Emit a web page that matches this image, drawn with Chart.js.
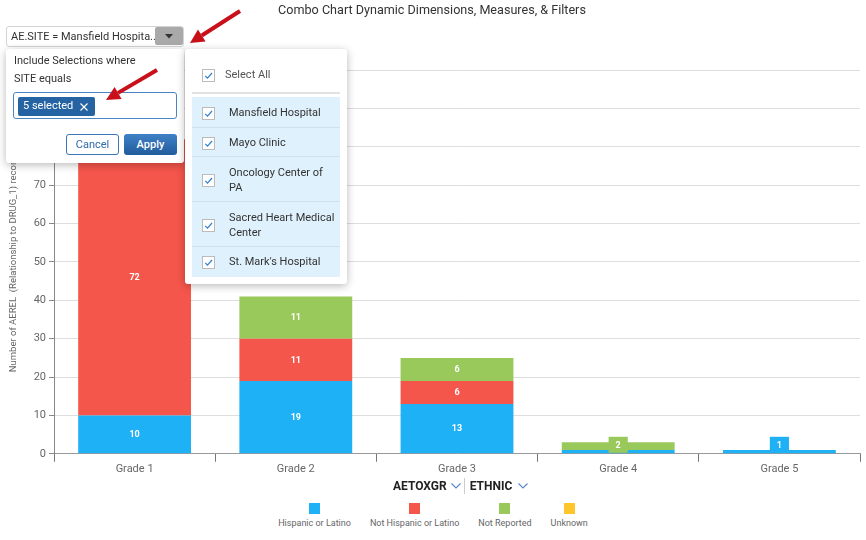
<!DOCTYPE html>
<html>
<head>
<meta charset="utf-8">
<script src="https://cdn.jsdelivr.net/npm/chart.js@4"></script>
<style>
  html, body { margin:0; padding:0; background:#fff; width:866px; height:540px; overflow:hidden; font-family: Roboto, "Liberation Sans", sans-serif; }
  #wrap { position:absolute; left:0; top:0; width:866px; height:478px; }
  .abs { position:absolute; }
  #dims { position:absolute; top:477px; left:393px; height:18px; display:flex; align-items:center; font-size:12px; font-weight:bold; color:#222; white-space:nowrap; }
  #dims .sep { width:1px; height:16px; background:#ccc; margin:0 5px 0 3px; }
  #dims svg.c1 { margin-left:4px; }
  #dims svg.c2 { margin-left:6px; }
  #legend { position:absolute; top:503px; left:0; width:866px; display:flex; justify-content:center; gap:19px; font-size:9px; color:#666; }
  #legend .item { display:flex; flex-direction:column; align-items:center; }
  #legend .sw { width:11px; height:11px; margin-bottom:4px; }
  .panel { background:#fff; box-shadow:0 2px 8px rgba(0,0,0,0.28); border-radius:3px; }
  .txt { font-size:11px; color:#333; white-space:nowrap; }
  .cb { position:absolute; width:13px; height:13px; border:1px solid #bbb; background:#fff; box-sizing:border-box; }
</style>
</head>
<body>
<div id="wrap"><canvas id="c" width="866" height="478"></canvas></div>
<div id="dims"><span>AETOXGR</span><svg class="c1" width="10" height="6" viewBox="0 0 10 6"><path d="M0.5 0.5 L5 5 L9.5 0.5" fill="none" stroke="#5b86c4" stroke-width="1.1"/></svg><span class="sep"></span><span>ETHNIC</span><svg class="c2" width="10" height="6" viewBox="0 0 10 6"><path d="M0.5 0.5 L5 5 L9.5 0.5" fill="none" stroke="#5b86c4" stroke-width="1.1"/></svg></div>
<div id="legend"></div>

<!-- Filter button -->
<div class="abs" style="left:6px;top:26px;width:178px;height:21px;border:1px solid #d4d4d4;border-radius:3px;box-sizing:border-box;background:#fff;">
  <div class="abs txt" style="left:4px;top:3px;">AE.SITE = Mansfield Hospita...</div>
  <div class="abs" style="left:148px;top:0px;width:28px;height:18px;background:#a9a9a9;border-radius:2px;">
    <svg class="abs" style="left:10px;top:7px" width="8" height="5" viewBox="0 0 8 5"><path d="M0 0 L8 0 L4 4.5Z" fill="#333"/></svg>
  </div>
</div>

<!-- Panel 1 -->
<div class="abs panel" style="left:6px;top:49px;width:178px;height:114px;">
  <div class="abs txt" style="left:8px;top:5px;">Include Selections where</div>
  <div class="abs txt" style="left:8px;top:23px;">SITE equals</div>
  <div class="abs" style="left:7px;top:43px;width:164px;height:27px;border:1px solid #4a86c5;border-radius:3px;box-sizing:border-box;">
    <div class="abs" style="left:4px;top:4px;width:77px;height:19px;background:#2563a3;border-radius:2px;color:#fff;font-size:11px;line-height:17px;">
      <span style="position:absolute;left:5px;top:0;">5 selected</span>
      <svg class="abs" style="left:62px;top:6px" width="8" height="8" viewBox="0 0 8 8"><path d="M0.5 0.5 L7.5 7.5 M7.5 0.5 L0.5 7.5" stroke="#fff" stroke-width="1.1"/></svg>
    </div>
  </div>
  <div class="abs" style="left:60px;top:85px;width:53px;height:21px;border:1px solid #3a76b8;border-radius:3px;box-sizing:border-box;color:#2f6aab;font-size:11px;text-align:center;line-height:19px;">Cancel</div>
  <div class="abs" style="left:118px;top:85px;width:53px;height:21px;border-radius:3px;background:linear-gradient(#3f80c6,#215c9c);color:#fff;font-size:11px;font-weight:500;text-align:center;line-height:21px;">Apply</div>
</div>

<!-- Panel 2 -->
<div class="abs panel" style="left:185px;top:49px;width:162px;height:235px;">
  <div id="plist"></div>
</div>

<!-- Arrows -->
<svg class="abs" style="left:0;top:0;pointer-events:none" width="866" height="540">
  <line x1="240" y1="11" x2="201.8" y2="35.5" stroke="#c8101a" stroke-width="4"/>
  <polygon points="190,43 205.6,41.4 198,29.6" fill="#c8101a"/>
  <line x1="157" y1="70" x2="118.1" y2="92.9" stroke="#c8101a" stroke-width="4"/>
  <polygon points="106,100 121.6,98.9 114.6,86.9" fill="#c8101a"/>
</svg>

<script>
// ---- Data ----
const categories = ["Grade 1", "Grade 2", "Grade 3", "Grade 4", "Grade 5"];
const seriesNames = ["Hispanic or Latino", "Not Hispanic or Latino", "Not Reported", "Unknown"];
const hispanicOrLatino    = [10, 19, 13, 1, 1];
const notHispanicOrLatino = [72, 11, 6, 0, 0];
const notReported         = [0, 11, 6, 2, 0];
const unknown             = [0, 0, 0, 0, 0];
const yTicks = [0, 10, 20, 30, 40, 50, 60, 70, 80, 90, 100];
const sites = ["Mansfield Hospital", "Mayo Clinic", "Oncology Center of PA", "Sacred Heart Medical Center", "St. Mark's Hospital"];

const colors = ["#1fb1f5", "#f5564b", "#99c95b", "#fec52d"];
const seriesValues = [hispanicOrLatino, notHispanicOrLatino, notReported, unknown];

// ---- Legend ----
const lg = document.getElementById('legend');
seriesNames.forEach((n, i) => {
  const it = document.createElement('div'); it.className = 'item';
  it.innerHTML = '<div class="sw" style="background:' + colors[i] + '"></div><div>' + n + '</div>';
  lg.appendChild(it);
});

// ---- Site list panel ----
const check = '<svg width="11" height="11" viewBox="0 0 11 11" style="position:absolute;left:0;top:0"><path d="M2.3 5.8 L4.5 8.2 L9 3" fill="none" stroke="#2f7fd0" stroke-width="1.2"/></svg>';
const pl = document.getElementById('plist');
let html = '<div class="cb" style="left:17px;top:20px;">' + check + '</div>' +
  '<div class="abs" style="left:40px;top:19px;font-size:11px;color:#555;">Select All</div>' +
  '<div class="abs" style="left:7px;top:43px;width:148px;height:2px;background:#e2e2e2;"></div>' +
  '<div class="abs" style="left:7px;top:48px;width:148px;height:180px;background:#dff1fc;"></div>';
const rows = [[48,79],[79,108],[108,153],[153,198],[198,228]];
sites.forEach((s, i) => {
  const [a, b] = rows[i];
  const mid = (a + b) / 2;
  if (i > 0) html += '<div class="abs" style="left:7px;top:' + (a - 1) + 'px;width:148px;height:1px;background:#cfe0ea;"></div>';
  html += '<div class="cb" style="left:17px;top:' + (mid - 6) + 'px;">' + check + '</div>';
  html += '<div class="abs" style="left:44px;top:' + (mid - (b - a > 40 ? 15 : 8)) + 'px;width:106px;font-size:11px;color:#333;line-height:15px;">' + s + '</div>';
});
pl.innerHTML = html;

// ---- Value label plugin ----
const valueLabels = {
  id: 'valueLabels',
  afterDatasetsDraw(chart) {
    const ctx = chart.ctx;
    const area = chart.chartArea;
    ctx.save();
    ctx.font = 'bold 9px Roboto';
    ctx.textAlign = 'center';
    ctx.textBaseline = 'middle';
    const n = chart.data.labels.length;
    for (let j = 0; j < n; j++) {
      const boxes = [];
      for (let d = chart.data.datasets.length - 1; d >= 0; d--) {
        const v = chart.data.datasets[d].data[j];
        if (!v) continue;
        const el = chart.getDatasetMeta(d).data[j];
        const cy = (el.y + el.base) / 2;
        const txt = String(v);
        const w = ctx.measureText(txt).width + 14;
        const h = 16;
        let top = cy - h / 2;
        if (top + h > area.bottom - 1) top = area.bottom - 1 - h;
        const box = { l: el.x - w / 2, r: el.x + w / 2, t: top, b: top + h };
        if (boxes.some(o => !(box.r < o.l || box.l > o.r || box.b < o.t || box.t > o.b))) continue;
        boxes.push(box);
        ctx.fillStyle = chart.data.datasets[d].backgroundColor;
        ctx.fillRect(box.l, box.t, w, h);
        ctx.fillStyle = '#ffffff';
        ctx.fillText(txt, el.x, top + h / 2 + 0.5);
      }
    }
    ctx.restore();
  }
};

Chart.defaults.font.family = 'Roboto';
new Chart(document.getElementById('c'), {
  type: 'bar',
  data: {
    labels: categories,
    datasets: seriesNames.map((n, i) => ({
      label: n,
      data: seriesValues[i],
      backgroundColor: colors[i],
      borderWidth: 0,
      barPercentage: 0.7,
      categoryPercentage: 1.0
    }))
  },
  options: {
    responsive: false,
    animation: false,
    devicePixelRatio: 1,
    layout: { padding: { left: 4, right: 6, top: 0, bottom: 1 } },
    plugins: {
      legend: { display: false },
      tooltip: { enabled: false },
      title: {
        display: true,
        text: 'Combo Chart Dynamic Dimensions, Measures, & Filters',
        color: '#333',
        font: { size: 12.6, weight: 'normal' },
        padding: { top: 3, bottom: 52 }
      }
    },
    scales: {
      x: {
        stacked: true,
        grid: { display: true, drawOnChartArea: false, drawTicks: true, tickLength: 8, tickColor: '#777', offset: true },
        border: { display: true, color: '#999' },
        ticks: { color: '#666', font: { size: 11 }, padding: 1 }
      },
      y: {
        stacked: true,
        min: yTicks[0],
        max: yTicks[yTicks.length - 1],
        afterBuildTicks: (s) => { s.ticks = yTicks.map(v => ({ value: v })); },
        afterFit: (s) => { s.width = 50; },
        grid: { color: '#dedede', tickColor: '#888', tickLength: 5 },
        border: { display: true, color: '#888' },
        ticks: { color: '#666', font: { size: 11 }, padding: 3 },
        title: {
          display: true,
          text: 'Number of AEREL  (Relationship to DRUG_1) records',
          color: '#666',
          font: { size: 9.5 },
          padding: { top: 4, bottom: 4 }
        }
      }
    }
  },
  plugins: [valueLabels]
});
</script>
</body>
</html>
